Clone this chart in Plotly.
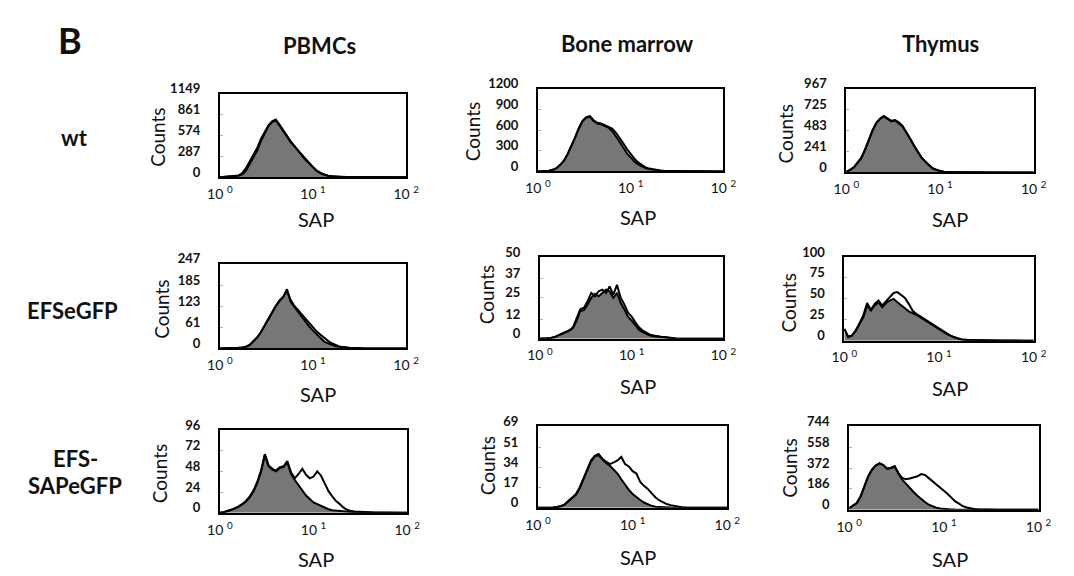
import plotly.graph_objects as go

# ---------------- data ----------------
# SAP bin positions, as log10 exponents (0 -> 10^0, 2 -> 10^2)
sap_log = [0.00, 0.04, 0.08, 0.12, 0.16, 0.20, 0.24, 0.28, 0.32, 0.36,
           0.40, 0.44, 0.48, 0.52, 0.56, 0.60, 0.64, 0.68, 0.72, 0.76,
           0.80, 0.84, 0.88, 0.92, 0.96, 1.00, 1.04, 1.08, 1.12, 1.16,
           1.20, 1.24, 1.28, 1.32, 1.36, 1.40, 1.44, 1.48, 1.52, 1.56,
           1.60, 1.64, 1.68, 1.72, 1.76, 1.80, 1.84, 1.88, 1.92, 1.96,
           2.00]

columns = ["PBMCs", "Bone marrow", "Thymus"]
rows = ["wt", "EFSeGFP", "EFS-SAPeGFP"]

# --- wt ---
pbmc_wt_filled = [0, 6, 11, 14, 17, 23, 40, 92, 184, 276,
                  368, 494, 609, 701, 758, 781, 712, 632, 552, 483,
                  425, 368, 299, 241, 195, 138, 92, 57, 34, 23,
                  14, 9, 7, 5, 5, 4, 4, 4, 3, 3,
                  3, 3, 3, 3, 2, 2, 2, 2, 2, 2,
                  2]
pbmc_wt_open = [0, 6, 11, 14, 17, 25, 57, 126, 218, 310,
                402, 529, 632, 712, 770, 793, 724, 643, 563, 494,
                431, 362, 293, 236, 190, 132, 88, 55, 33, 22,
                13, 9, 7, 5, 5, 4, 4, 4, 3, 3,
                3, 3, 3, 3, 2, 2, 2, 2, 2, 2,
                2]
bm_wt_filled = [0, 2, 6, 12, 24, 48, 96, 156, 252, 360,
                492, 624, 732, 780, 792, 732, 696, 684, 660, 636,
                588, 516, 432, 348, 264, 204, 144, 102, 72, 48,
                34, 24, 17, 12, 8, 6, 5, 4, 4, 3,
                3, 3, 2, 2, 2, 2, 1, 1, 1, 1,
                0]
bm_wt_open = [0, 2, 6, 12, 24, 48, 96, 156, 252, 360,
              492, 624, 732, 790, 804, 744, 708, 696, 672, 648,
              624, 564, 492, 408, 324, 252, 186, 132, 90, 60,
              42, 29, 19, 13, 9, 7, 5, 4, 4, 3,
              3, 3, 2, 2, 2, 2, 1, 1, 1, 1,
              0]
thy_wt_filled = [10, 29, 58, 106, 164, 261, 377, 484, 571, 619,
                 648, 619, 590, 600, 571, 532, 464, 387, 309, 242,
                 174, 126, 87, 48, 29, 15, 8, 4, 3, 2,
                 2, 2, 1, 1, 1, 1, 0, 0, 0, 0,
                 0, 0, 0, 0, 0, 0, 0, 0, 0, 0,
                 0]
thy_wt_open = [10, 29, 60, 110, 170, 266, 382, 488, 575, 623,
               654, 625, 598, 606, 580, 538, 470, 392, 314, 246,
               178, 128, 88, 50, 30, 16, 8, 4, 3, 2,
               2, 2, 1, 1, 1, 1, 0, 0, 0, 0,
               0, 0, 0, 0, 0, 0, 0, 0, 0, 0,
               0]

# --- EFSeGFP ---
pbmc_efs_filled = [0, 0, 0, 1, 1, 2, 3, 5, 10, 20,
                   32, 47, 67, 86, 106, 124, 138, 150, 173, 136,
                   121, 106, 91, 77, 64, 52, 42, 30, 20, 15,
                   10, 7, 5, 3, 2, 1, 1, 0, 0, 0,
                   0, 0, 0, 0, 0, 0, 0, 0, 0, 0,
                   0]
pbmc_efs_open = [0, 0, 0, 1, 1, 2, 3, 5, 10, 20,
                 32, 47, 67, 86, 106, 124, 140, 151, 168, 141,
                 124, 111, 99, 86, 74, 62, 49, 40, 30, 22,
                 15, 10, 6, 4, 2, 1, 1, 0, 0, 0,
                 0, 0, 0, 0, 0, 0, 0, 0, 0, 0,
                 0]
bm_efs_filled = [0, 0, 0.3, 0.5, 1, 2, 3, 4, 5, 6.5,
                 11, 17, 17.5, 21, 25, 27.5, 26, 28, 30, 29,
                 25, 28, 22, 18, 13.5, 11, 8, 5.5, 4, 3,
                 2, 1.5, 1.2, 1, 0.8, 0.5, 0.3, 0.1, 0, 0,
                 0, 0, 0, 0, 0, 0, 0, 0, 0, 0,
                 0]
bm_efs_open = [0, 0, 0.3, 0.5, 1, 2, 3, 4, 5, 7,
               12, 18, 19, 23, 28, 26, 29, 30, 28, 32,
               27, 33, 25, 21, 16, 13.5, 10, 7, 5, 3.5,
               2.5, 2, 1.5, 1.2, 1, 0.6, 0.3, 0.1, 0, 0,
               0, 0, 0, 0, 0, 0, 0, 0, 0, 0,
               0]
thy_efs_filled = [14, 5, 6, 12, 20, 28, 42, 36, 42, 46,
                  40, 45, 48, 50, 46, 42, 38, 35, 33, 31,
                  28, 25, 22, 19, 16, 13, 10, 8, 6, 4,
                  2.5, 1.5, 1, 0.8, 0.6, 0.5, 0.4, 0.3, 0.2, 0.1,
                  0, 0, 0, 0, 0, 0, 0, 0, 0, 0,
                  0]
thy_efs_open = [14, 4, 6, 12, 21, 30, 45, 37, 44, 48,
                42, 47, 53, 57, 58, 55, 51, 44, 36, 32,
                29, 26, 23, 20, 17, 14, 11, 8.5, 6, 4,
                2.5, 1.5, 1, 0.8, 0.6, 0.5, 0.4, 0.3, 0.2, 0.1,
                0, 0, 0, 0, 0, 0, 0, 0, 0, 0,
                0]

# --- EFS-SAPeGFP ---
pbmc_sap_filled = [0, 0.5, 2, 3, 5, 7, 10, 13, 18, 25,
                   35, 48, 67, 54, 50, 48, 52, 53, 59, 45,
                   38, 32, 25, 20, 16, 12, 10, 8, 6, 4,
                   3, 2.5, 2, 1.5, 1, 0.8, 0.6, 0.4, 0.3, 0.2,
                   0.1, 0, 0, 0, 0, 0, 0, 0, 0, 0,
                   0]
pbmc_sap_open = [0, 0.5, 2, 3.5, 5, 7.5, 10, 14, 19, 26,
                 36, 49, 68, 55, 51, 49, 53, 54, 60, 47,
                 40, 45, 51, 44, 40, 42, 48, 43, 33, 25,
                 19, 13.5, 10, 5.8, 3.4, 1.9, 1.4, 1, 0.7, 0.5,
                 0.3, 0.2, 0.1, 0, 0, 0, 0, 0, 0, 0,
                 0]
bm_sap_filled = [0, 0, 0, 0.1, 0.3, 0.7, 1.4, 2.8, 5.5, 8.3,
                 11, 16.6, 23.5, 31.7, 39, 43.5, 44.5, 41, 38, 35.5,
                 32, 29, 24.2, 19.5, 15.2, 11.7, 9, 6.6, 4.5, 2.8,
                 1.7, 1, 0.7, 0.5, 0.35, 0.3, 0.2, 0.15, 0.1, 0.1,
                 0.1, 0.1, 0.1, 0.1, 0.1, 0.1, 0.1, 0.1, 0.1, 0.1,
                 0.1]
bm_sap_open = [0, 0, 0, 0.1, 0.3, 0.7, 1.4, 2.8, 5.5, 8.3,
               11.5, 17, 24, 32.4, 40, 44, 45.5, 41.5, 39, 37,
               38.5, 40, 43, 37, 35, 31, 29, 22, 18.6, 16,
               12.5, 9, 6.5, 4.5, 3.2, 2.3, 1.6, 1, 0.6, 0.4,
               0.2, 0.15, 0.1, 0.1, 0.1, 0.1, 0.1, 0.1, 0.1, 0.1,
               0.1]
thy_sap_filled = [15, 37, 60, 119, 201, 298, 357, 394, 413, 398,
                  365, 372, 387, 320, 268, 230, 190, 158, 126, 95,
                  70, 45, 30, 18, 11, 7, 4, 3, 2, 1.5,
                  1, 1, 1, 0.5, 0.5, 0, 0, 0, 0, 0,
                  0, 0, 0, 0, 0, 0, 0, 0, 0, 0,
                  0]
thy_sap_open = [15, 37, 60, 119, 201, 298, 357, 394, 413, 398,
                365, 372, 387, 327, 283, 272, 278, 290, 298, 318,
                310, 282, 256, 228, 200, 170, 140, 108, 75, 55,
                32, 20, 11, 7, 4, 2, 1, 0.5, 0, 0,
                0, 0, 0, 0, 0, 0, 0, 0, 0, 0,
                0]

# y-axis tick labels per panel (row-major)
yticks = [
    [0, 287, 574, 861, 1149],
    [0, 300, 600, 900, 1200],
    [0, 241, 483, 725, 967],
    [0, 61, 123, 185, 247],
    [0, 12, 25, 37, 50],
    [0, 25, 50, 75, 100],
    [0, 24, 48, 72, 96],
    [0, 17, 34, 51, 69],
    [0, 186, 372, 558, 744],
]
x_tickvals = [1, 10, 100]
x_ticktext = ["10 <sup>0</sup>", "10 <sup>1</sup>", "10 <sup>2</sup>"]

filled = [pbmc_wt_filled, bm_wt_filled, thy_wt_filled,
          pbmc_efs_filled, bm_efs_filled, thy_efs_filled,
          pbmc_sap_filled, bm_sap_filled, thy_sap_filled]
opened = [pbmc_wt_open, bm_wt_open, thy_wt_open,
          pbmc_efs_open, bm_efs_open, thy_efs_open,
          pbmc_sap_open, bm_sap_open, thy_sap_open]

for arr in filled + opened:
    assert len(arr) == len(sap_log), len(arr)

sap = [10 ** v for v in sap_log]

# ---------------- layout geometry (pixels) ----------------
W, H = 1074, 576
boxes = [  # left, right, top, bottom
    (212, 403, 83, 169), (538, 728, 78, 163), (854, 1046, 78, 164),
    (212, 403, 258, 345), (540, 728, 251, 335), (852, 1046, 251, 337),
    (212, 404, 429, 514), (538, 732, 425, 509), (857, 1051, 425, 511),
]

FONT = "Lato"
TXT = "#111111"
GRAY = "#777777"

fig = go.Figure()
layout = dict(width=W, height=H, margin=dict(l=0, r=0, t=0, b=0),
              paper_bgcolor="white", plot_bgcolor="white",
              showlegend=False, font=dict(family=FONT, color=TXT))

for k in range(9):
    n = k + 1
    xa = "x" if n == 1 else f"x{n}"
    ya = "y" if n == 1 else f"y{n}"
    l, r, t, b = boxes[k]
    fig.add_trace(go.Scatter(x=sap, y=filled[k], xaxis=xa, yaxis=ya, mode="lines",
                             line=dict(color="black", width=2), fill="tozeroy",
                             fillcolor=GRAY, hoverinfo="skip"))
    fig.add_trace(go.Scatter(x=sap, y=opened[k], xaxis=xa, yaxis=ya, mode="lines",
                             line=dict(color="black", width=2), hoverinfo="skip"))
    ymax = yticks[k][-1]
    layout["xaxis" if n == 1 else f"xaxis{n}"] = dict(
        type="log", range=[0, 2], domain=[l / W, r / W], anchor=ya,
        showline=True, mirror=True, linecolor="black", linewidth=2,
        showgrid=False, zeroline=False, ticks="",
        tickvals=x_tickvals, ticktext=x_ticktext,
        tickfont=dict(family=FONT, size=14, color=TXT),
        ticklabelstandoff=3)
    layout["yaxis" if n == 1 else f"yaxis{n}"] = dict(
        range=[0, ymax], domain=[1 - b / H, 1 - t / H], anchor=xa,
        showline=True, mirror=True, linecolor="black", linewidth=2,
        showgrid=False, zeroline=False, ticks="inside", ticklen=3,
        tickcolor="#b0b0b0", tickwidth=1,
        tickvals=yticks[k], ticktext=[str(v) for v in yticks[k]],
        tickfont=dict(family=FONT, size=13, color=TXT, weight="bold"),
        ticklabelshift=-5, ticklabelstandoff=15)

anns = []


def ann(x, y, text, size, bold=False, angle=0):
    anns.append(dict(xref="paper", yref="paper", x=x / W, y=1 - y / H, text=text,
                     showarrow=False, xanchor="center", yanchor="middle",
                     textangle=angle,
                     font=dict(family=FONT, size=size, color=TXT,
                               weight="bold" if bold else "normal")))


ann(58, 28, "B", 36, bold=True)
for x, y, name in [(314, 33, columns[0]), (630, 31, columns[1]), (950, 31, columns[2])]:
    ann(x, y, name, 22, bold=True)
ann(63, 128, rows[0], 22, bold=True)
ann(61, 306, rows[1], 22, bold=True)
ann(64, 458, "EFS-", 22, bold=True)
ann(64, 486, "SAPeGFP", 22, bold=True)

sap_pos = [(311, 212), (641, 210), (960, 212),
           (313, 392), (641, 384), (960, 386),
           (311, 562), (641, 560), (960, 562)]
counts_pos = [(148, 128), (471, 122), (792, 124),
              (152, 305), (486, 290), (795, 298),
              (150, 474), (486, 466), (795, 468)]
for (sx, sy), (cx, cy) in zip(sap_pos, counts_pos):
    ann(sx, sy, "SAP", 20)
    ann(cx, cy, "Counts", 19, angle=-90)

layout["annotations"] = anns
fig.update_layout(**layout)
fig.write_html("out.html")
